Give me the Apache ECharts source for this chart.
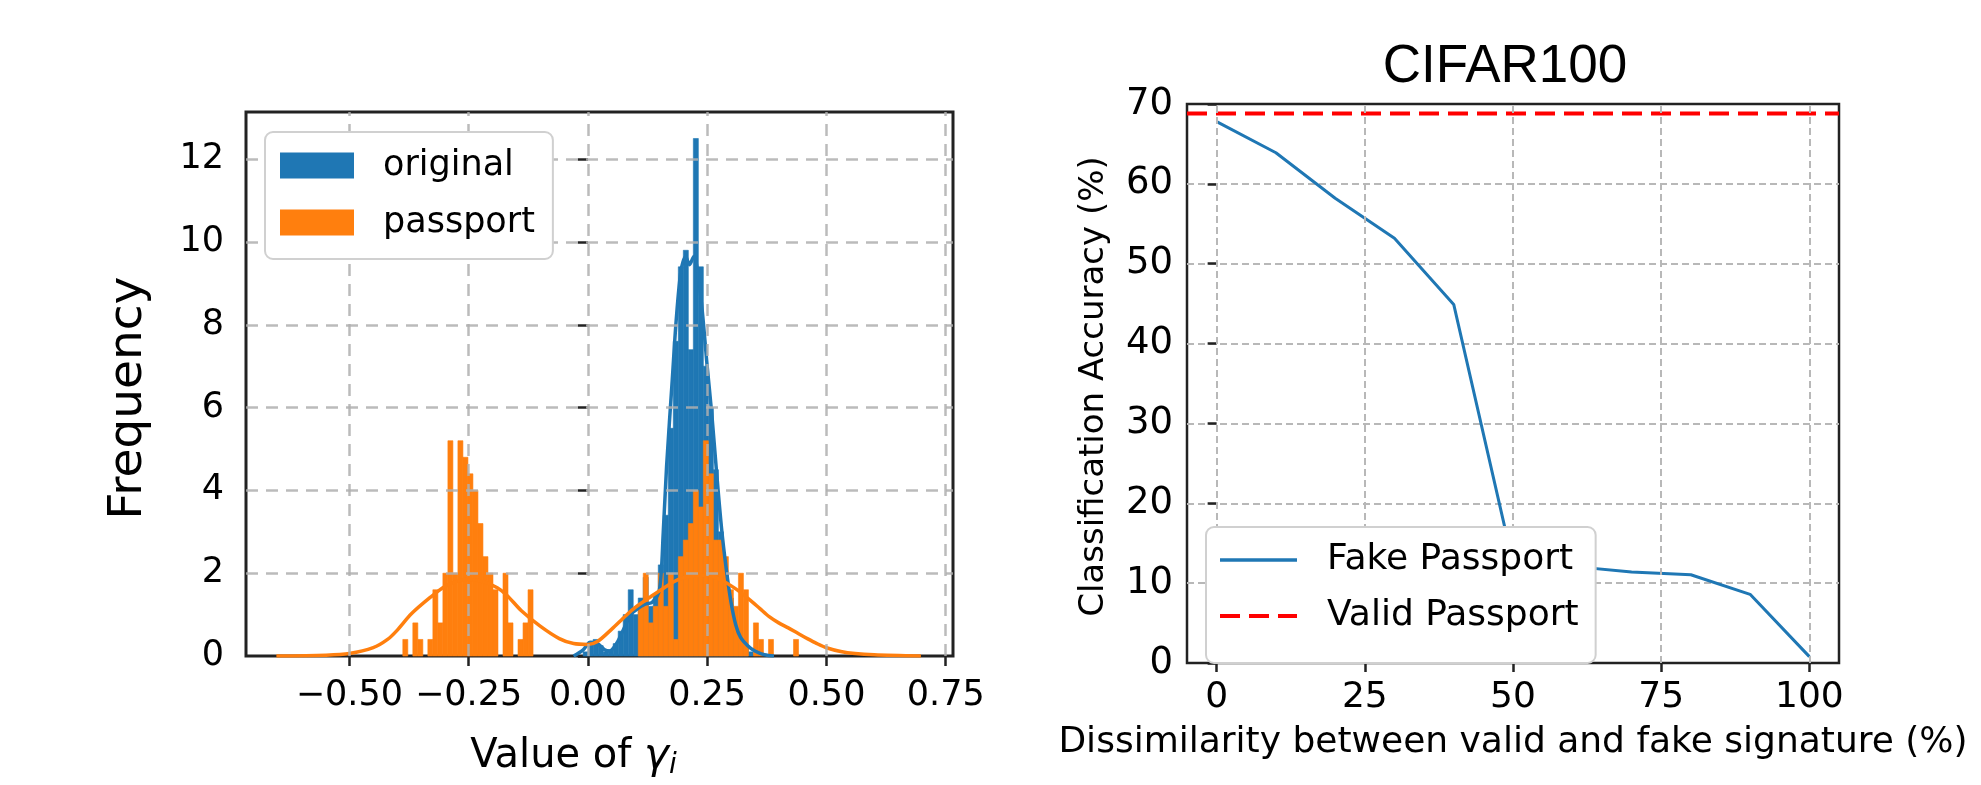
<!DOCTYPE html>
<html>
<head>
<meta charset="utf-8">
<title>gamma histogram and CIFAR100 accuracy</title>
<script src="https://cdn.jsdelivr.net/npm/echarts@6/dist/echarts.min.js"></script>
<style>
  html, body { margin: 0; padding: 0; background: #fff; }
  #chart { width: 1981px; height: 785px; }
</style>
</head>
<body>
<div id="chart"></div>
<script>
// ---- left panel: histogram of gamma_i ----
var binStart = -0.388;
var binWidth = 0.0105;

// passport histogram, one value per bin from binStart
var passportHeights = [
  0.4, 0, 0.8, 0.4, 0, 0.4, 1.6, 0.8, 2.0, 5.2,
  2.0, 5.2, 4.8, 4.4, 4.0, 3.2, 2.4, 2.0, 1.6, 0,
  2.0, 0.8, 0, 0.4, 0.8, 1.6, 0, 0, 0, 0,
  0, 0, 0, 0, 0, 0, 0, 0, 0, 0,
  0, 0, 0, 0, 0, 0, 0, 1.2, 2.0, 0.8,
  1.2, 2.0, 1.2, 2.0, 0.4, 2.4, 2.8, 3.2, 4.0, 3.6,
  5.2, 4.4, 2.8, 2.8, 2.4, 1.6, 1.2, 2.0, 1.6, 0,
  0.8, 0.4, 0, 0.4, 0, 0, 0, 0, 0.4
];

// original histogram starts at bin 36
var originalFirstBin = 36;
var originalHeights = [
  0.1, 0.35, 0.4, 0.25, 0.1, 0.15, 0.3, 0.6, 1.0, 1.6,
  1.0, 1.4, 1.9, 1.2, 1.5, 2.2, 3.4, 5.5, 7.6, 9.4,
  9.8, 7.4, 12.5, 9.4, 7.0, 6.0, 4.5, 3.0, 2.0, 1.4,
  0.6, 0.3, 0.2, 0.1
];

var originalKde = [
  [-0.03, 0], [-0.01, 0.15], [0.005, 0.33], [0.02, 0.3], [0.035, 0.15], [0.045, 0.12],
  [0.06, 0.3], [0.075, 0.65], [0.09, 1.0], [0.105, 1.15], [0.12, 1.25], [0.135, 1.3],
  [0.15, 1.6], [0.158, 3.0], [0.165, 4.6], [0.177, 6.7], [0.185, 8.1], [0.195, 9.3],
  [0.205, 9.65], [0.213, 9.45], [0.222, 9.65], [0.23, 9.3], [0.24, 8.3], [0.25, 7.0],
  [0.26, 5.8], [0.27, 4.4], [0.28, 3.1], [0.29, 2.1], [0.30, 1.3], [0.31, 0.75],
  [0.32, 0.45], [0.335, 0.25], [0.35, 0.12], [0.37, 0.03], [0.39, 0]
];

var passportKde = [
  [-0.653, 0], [-0.55, 0.02], [-0.50, 0.06], [-0.45, 0.2], [-0.42, 0.4], [-0.40, 0.62],
  [-0.37, 1.02], [-0.33, 1.42], [-0.30, 1.68], [-0.27, 1.82], [-0.25, 1.85], [-0.22, 1.8],
  [-0.19, 1.65], [-0.17, 1.47], [-0.14, 1.1], [-0.10, 0.72], [-0.06, 0.42], [-0.03, 0.3],
  [0.0, 0.28], [0.02, 0.35], [0.05, 0.65], [0.08, 0.98], [0.10, 1.18], [0.13, 1.42],
  [0.16, 1.65], [0.19, 1.85], [0.22, 1.93], [0.25, 1.95], [0.28, 1.83], [0.31, 1.62],
  [0.34, 1.35], [0.36, 1.15], [0.38, 0.95], [0.40, 0.8], [0.42, 0.68], [0.44, 0.55],
  [0.46, 0.42], [0.48, 0.3], [0.50, 0.2], [0.53, 0.11], [0.56, 0.06], [0.60, 0.03],
  [0.698, 0]
];

var xTicksLeft = [-0.5, -0.25, 0, 0.25, 0.5, 0.75];
var yTicksLeft = [0, 2, 4, 6, 8, 10, 12];

// ---- right panel: CIFAR100 accuracy ----
var dissimilarity = [0, 10, 20, 30, 40, 50, 60, 70, 80, 90, 100];
var fakeAccuracy = [67.8, 63.9, 58.2, 53.2, 44.9, 12.5, 12.1, 11.4, 11.05, 8.6, 0.8];
var validAccuracy = 68.8;
var xTicksRight = [0, 25, 50, 75, 100];

var BLUE = '#1f77b4';
var ORANGE = '#ff7f0e';
var RED = '#ff0000';
var FONT = 'DejaVu Sans';

function histBins(first, heights) {
  var out = [];
  heights.forEach(function (h, i) {
    if (h > 0) {
      var x0 = binStart + (first + i) * binWidth;
      out.push([x0, x0 + binWidth, h]);
    }
  });
  return out;
}

function barRenderer(color) {
  return function (params, api) {
    var a = api.coord([api.value(0), api.value(2)]);
    var b = api.coord([api.value(1), 0]);
    return {
      type: 'rect',
      shape: { x: a[0], y: a[1], width: b[0] - a[0], height: b[1] - a[1] },
      style: { fill: color, stroke: color, lineWidth: 0.6 }
    };
  };
}

var gridLinesLeft = xTicksLeft.map(function (v) { return { xAxis: v }; })
  .concat(yTicksLeft.slice(1).map(function (v) { return { yAxis: v }; }));
var gridLinesRight = xTicksRight.map(function (v) { return { xAxis: v }; });

function fmtLeft(v) {
  return (v < 0 ? '\u2212' : '') + Math.abs(v).toFixed(2);
}

var chart = echarts.init(document.getElementById('chart'), null, { renderer: 'canvas' });

var option = {
  animation: false,
  backgroundColor: '#fff',
  textStyle: { fontFamily: FONT, color: '#000' },
  graphic: [{
    type: 'text',
    x: 1505, y: 41,
    style: { text: 'CIFAR100', font: '53px "Liberation Sans"', fill: '#000', align: 'center', verticalAlign: 'top' }
  }],
  grid: [
    { left: 246, top: 112, width: 707, height: 546, show: true, borderColor: '#222', borderWidth: 3, backgroundColor: 'transparent' },
    { left: 1187, top: 104, width: 652, height: 559, show: true, borderColor: '#222', borderWidth: 2.5, backgroundColor: 'transparent' }
  ],
  legend: [
    {
      z: 20,
      orient: 'vertical', left: 265, top: 132,
      data: ['original', 'passport'],
      icon: 'rect', itemWidth: 74, itemHeight: 26, itemGap: 22,
      padding: [16, 18, 19, 15],
      backgroundColor: '#fff', borderColor: '#d0d0d0', borderWidth: 2, borderRadius: 8,
      textStyle: { fontFamily: FONT, fontSize: 35, color: '#000', padding: [0, 0, 0, 24], lineHeight: 26 }
    },
    {
      z: 20,
      orient: 'vertical', left: 1206, top: 527,
      data: [
        { name: 'Fake Passport', lineStyle: { color: BLUE, width: 3.5, type: 'solid' } },
        { name: 'Valid Passport', lineStyle: { color: RED, width: 4, type: [20, 9] } }
      ],
      itemWidth: 77, itemHeight: 26, itemGap: 20,
      itemStyle: { opacity: 0 },
      padding: [15, 17, 29, 12],
      backgroundColor: '#fff', borderColor: '#d0d0d0', borderWidth: 2, borderRadius: 8,
      textStyle: { fontFamily: FONT, fontSize: 36, color: '#000', padding: [0, 0, 0, 25], lineHeight: 26 }
    }
  ],
  xAxis: [
    {
      type: 'value', gridIndex: 0, min: -0.7167, max: 0.7653,
      name: '{a|Value of }{g|\u03b3}{s|i}', nameLocation: 'middle', nameGap: 78,
      nameTextStyle: {
        padding: [0, 52, 0, 0],
        rich: {
          a: { fontFamily: FONT, fontSize: 40, color: '#000' },
          g: { fontFamily: FONT, fontSize: 42, fontStyle: 'italic', color: '#000' },
          s: { fontFamily: FONT, fontSize: 28, fontStyle: 'italic', color: '#000', padding: [18, 0, 0, 0] }
        }
      },
      axisLine: { show: false },
      axisTick: { show: true, customValues: xTicksLeft, length: 10, lineStyle: { color: '#222', width: 2.5 } },
      axisLabel: { customValues: xTicksLeft, formatter: fmtLeft, fontSize: 35, margin: 22, color: '#000', fontFamily: FONT },
      splitLine: { show: false }
    },
    {
      type: 'value', gridIndex: 1, min: -5, max: 105,
      name: 'Dissimilarity between valid and fake signature (%)', nameLocation: 'middle', nameGap: 62,
      nameTextStyle: { fontFamily: FONT, fontSize: 36, color: '#000' },
      axisLine: { show: false },
      axisTick: { show: true, customValues: xTicksRight, length: 9, lineStyle: { color: '#222', width: 2.5 } },
      axisLabel: { customValues: xTicksRight, fontSize: 36, margin: 17, color: '#000', fontFamily: FONT },
      splitLine: { show: false }
    }
  ],
  yAxis: [
    {
      type: 'value', gridIndex: 0, min: 0, max: 13.14,
      name: 'Frequency', nameLocation: 'middle', nameRotate: 90, nameGap: 94,
      nameTextStyle: { fontFamily: FONT, fontSize: 47, color: '#000', padding: [0, 28, 0, 0] },
      axisLine: { show: false },
      axisTick: { show: true, customValues: yTicksLeft, length: 10, lineStyle: { color: '#222', width: 2.5 } },
      axisLabel: { customValues: yTicksLeft, fontSize: 35, margin: 22, color: '#000', fontFamily: FONT },
      splitLine: { show: false }
    },
    {
      type: 'value', gridIndex: 1, min: 0, max: 70, interval: 10,
      name: 'Classification Accuracy (%)', nameLocation: 'middle', nameRotate: 90, nameGap: 76,
      nameTextStyle: { fontFamily: FONT, fontSize: 34, color: '#000', padding: [0, 6, 0, 0] },
      axisLine: { show: false },
      axisTick: { show: true, length: 9, lineStyle: { color: '#222', width: 2.5 } },
      axisLabel: { fontSize: 37, margin: 14, color: '#000', fontFamily: FONT },
      splitLine: { show: true, showMinLine: false, showMaxLine: false, lineStyle: { color: '#b8b8b8', width: 2, type: [7, 4] } }
    }
  ],
  series: [
    {
      name: 'original', type: 'custom', xAxisIndex: 0, yAxisIndex: 0,
      itemStyle: { color: BLUE },
      renderItem: barRenderer(BLUE),
      encode: { x: [0, 1], y: 2 },
      data: histBins(originalFirstBin, originalHeights)
    },
    {
      name: 'passport', type: 'custom', xAxisIndex: 0, yAxisIndex: 0,
      itemStyle: { color: ORANGE },
      renderItem: barRenderer(ORANGE),
      encode: { x: [0, 1], y: 2 },
      data: histBins(0, passportHeights)
    },
    {
      name: 'gridLeft', type: 'line', xAxisIndex: 0, yAxisIndex: 0, data: [],
      markLine: {
        silent: true, symbol: 'none', label: { show: false },
        lineStyle: { color: 'rgba(175,175,175,0.85)', width: 2.5, type: [12, 8] },
        data: gridLinesLeft
      }
    },
    {
      name: 'original kde', type: 'line', xAxisIndex: 0, yAxisIndex: 0,
      symbol: 'none', smooth: 0.3,
      lineStyle: { color: BLUE, width: 3.5 },
      data: originalKde
    },
    {
      name: 'passport kde', type: 'line', xAxisIndex: 0, yAxisIndex: 0,
      symbol: 'none', smooth: 0.3,
      lineStyle: { color: ORANGE, width: 3.5 },
      data: passportKde
    },
    {
      name: 'gridRight', type: 'line', xAxisIndex: 1, yAxisIndex: 1, data: [],
      markLine: {
        silent: true, symbol: 'none', label: { show: false },
        lineStyle: { color: '#b8b8b8', width: 2, type: [7, 4] },
        data: gridLinesRight
      }
    },
    {
      name: 'Fake Passport', type: 'line', xAxisIndex: 1, yAxisIndex: 1,
      symbol: 'none',
      itemStyle: { color: BLUE },
      lineStyle: { color: BLUE, width: 3 },
      data: dissimilarity.map(function (d, i) { return [d, fakeAccuracy[i]]; })
    },
    {
      name: 'Valid Passport', type: 'line', xAxisIndex: 1, yAxisIndex: 1,
      symbol: 'none',
      itemStyle: { color: RED },
      lineStyle: { color: RED, width: 4, type: [20, 9] },
      data: [[-5, validAccuracy], [105, validAccuracy]]
    }
  ]
};

chart.setOption(option);
</script>
</body>
</html>
